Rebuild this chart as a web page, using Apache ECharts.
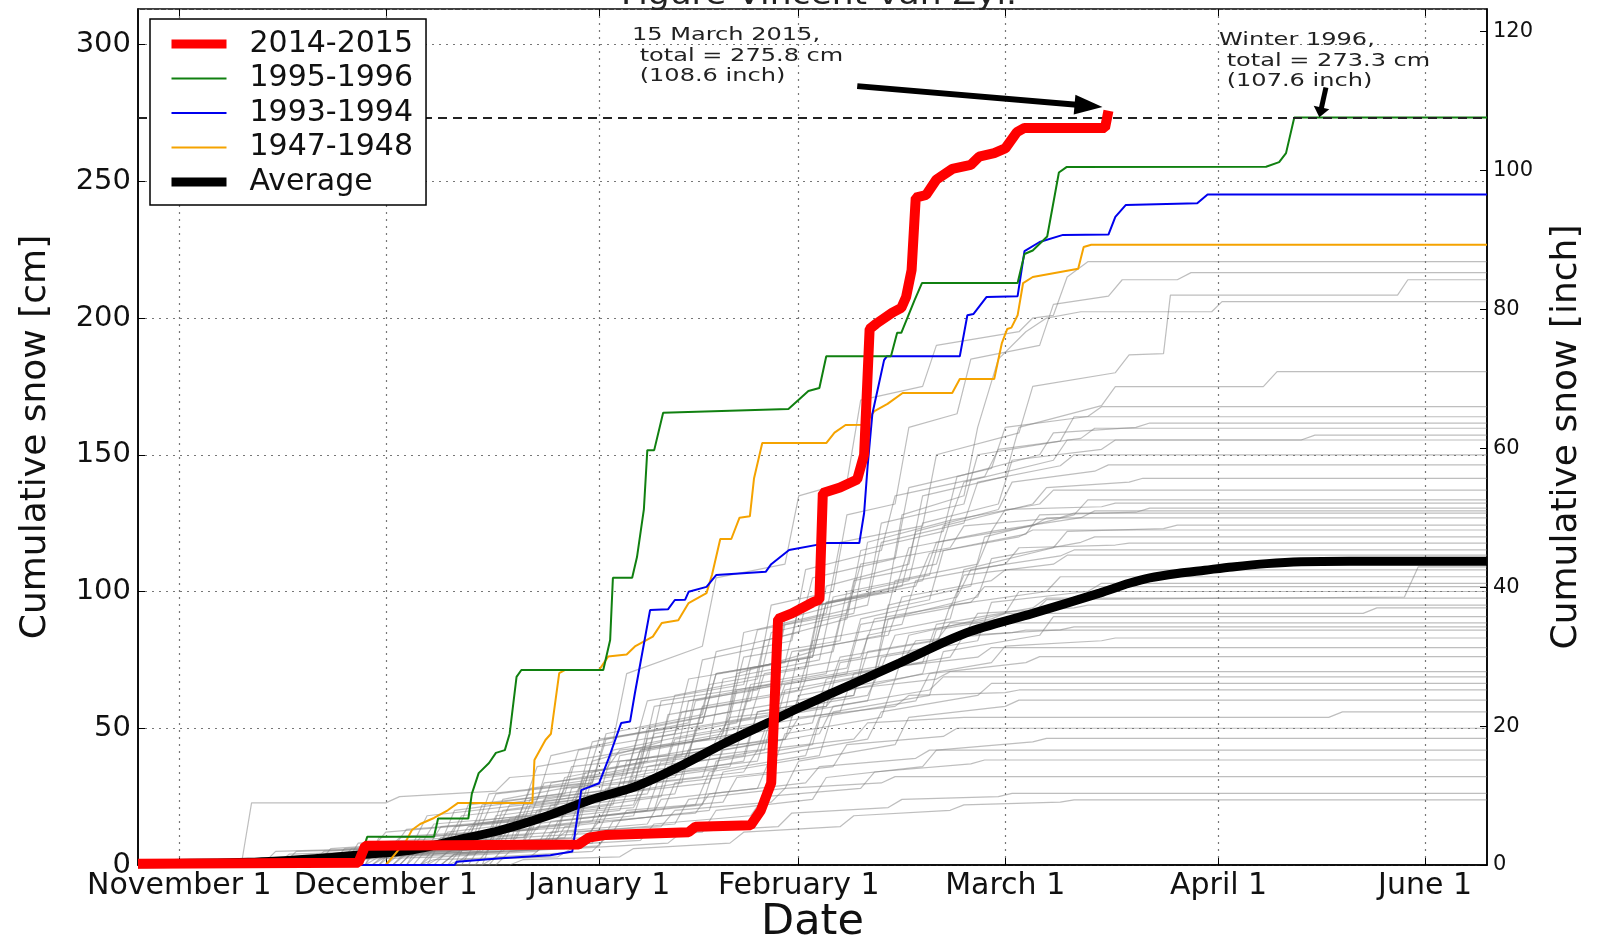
<!DOCTYPE html>
<html>
<head>
<meta charset="UTF-8">
<title>Cumulative snow</title>
<script src="https://cdn.jsdelivr.net/npm/echarts@6/dist/echarts.min.js"></script>
<style>html,body{margin:0;padding:0;background:#fff;} #main{width:1606px;height:936px;}</style>
</head>
<body>
<div id="main"></div>
<script type="text/javascript">
// x = days after November 1
var tickDays = [0, 30, 61, 90, 120, 151, 181];
var tickNames = ['November 1', 'December 1', 'January 1', 'February 1', 'March 1', 'April 1', 'June 1'];

var season2015 = [[-6,0.5],[26,0.8],[27,7],[58,7.5],[59.5,10],[62,11],[74,12],[75,14],[83,14.5],[84.5,20],[86,30],[87,90],[89,92],[92,96],[93,97],[93.5,136],[96,138],[98.5,141],[99.5,150],[100.3,196],[101.3,198],[103.6,202],[104.9,203.7],[105.6,207.7],[106.4,217.6],[107,244],[108.5,245],[110,250.6],[112.3,254.5],[115,256],[116.2,259],[118.4,260.3],[120,262],[121.7,268],[122.8,269.5],[134.5,269.5],[135,275.8]];
var season1996 = [[-6,0],[26,0],[27.3,10.3],[37,10.3],[37.6,17],[42,17],[42.5,26],[43.5,33.6],[45,37.3],[46,41],[47.3,42],[48,48],[49,68.8],[49.7,71.3],[61.6,71.3],[62.6,82.3],[63,105],[65.8,105],[66.5,112.6],[67.5,130],[68,151.7],[69,151.7],[70.3,165.4],[88.5,166.7],[90.2,170.6],[91.4,173.3],[93,174.4],[94,186],[103.4,186],[104.3,194.6],[104.9,194.6],[106.8,206.4],[107.9,212.8],[121.8,212.8],[122.8,223.4],[124,224.7],[126.1,229.8],[127.8,253.2],[128.9,255.2],[157.9,255.3],[159.8,257],[160.8,260.3],[162,273.3],[190,273.3]];
var season1994 = [[-6,0],[40,0],[40.3,1.2],[46.8,2.5],[53.9,3.6],[57.1,4.9],[58.4,27.4],[61,29.9],[62.3,38.4],[64.2,51.9],[65.5,52.5],[66.2,62.9],[68.4,93.2],[71,93.5],[72,96.9],[73.5,97],[74,99.9],[76.6,101.7],[78,106],[85.2,107.2],[86,110],[88.6,115.2],[94,117.7],[98.8,117.7],[99.5,128.7],[100,145.6],[100.7,165],[102.4,184.6],[102.8,186],[113.4,186],[114.5,201],[115.4,201.5],[117.3,207.7],[121.8,208],[122.8,224.5],[125,227.8],[128.4,230.4],[135,230.5],[136,237],[137.5,241.3],[147.9,242],[149.4,245.2],[190,245.2]];
var season1948 = [[-6,0],[30,0],[31,3],[33,9],[33.8,12.8],[35,15],[37,17.2],[39,20],[40.5,22.7],[51.3,22.7],[51.6,38.4],[53.2,45.7],[54,48],[55.2,70.2],[56,71.3],[61,71.3],[62.3,76.2],[65,77],[66.2,79.9],[68.8,83.5],[70.1,88.5],[72.5,89.5],[74,95.8],[76.6,99.4],[77.4,106.1],[78.6,119.2],[80.2,119.2],[81.4,127],[82.9,127.5],[83.5,141.3],[84.7,154.3],[94,154.3],[95.2,158.1],[96.8,160.9],[99.6,161],[101,166],[102.9,168.6],[105.1,172.6],[112.3,172.6],[113.4,177.7],[118.4,177.7],[119.5,190.7],[120.3,196],[120.9,196.5],[121.8,201],[122.6,212.8],[124,215],[130.6,218],[131.4,226],[132.5,226.8],[190,226.8]];
var average = [[-6,0.5],[10,1],[20.8,2.5],[26,3.7],[33.8,5.5],[40.3,9.1],[46.8,12.8],[53.2,17.7],[59.7,23.8],[66.2,28.6],[72.6,35.9],[79.2,44.5],[85.5,52],[90,57.4],[94.9,62.9],[104.6,73.8],[114.3,84.8],[124,92],[133.7,99.4],[138,103],[141,105],[145,106.6],[149,107.8],[153,109],[158,110.2],[163,110.9],[170,111.1],[190,111.1]];

// all other winters (grey)
var otherWinters = [
  [[-6,0],[22,0],[24,6],[38,8],[40,20],[52,24],[54,40],[63,45],[65,70],[76,80],[78,105],[88,110],[90,135],[97,140],[99,170],[108,175],[110,190],[122,195],[124,200],[127,201],[129,215],[132,220.6],[190,220.6]],
  [[-6,0],[28,0],[30,4],[44,6],[46,18],[58,22],[60,38],[70,45],[72,62],[84,68],[86,95],[95,100],[97,128],[104,132],[106,160],[113,165],[115,185],[125,190],[127,205],[135,208],[137,214],[145,214],[147,216.6],[190,216.6]],
  [[-6,0],[32,0],[34,5],[48,8],[50,22],[66,28],[68,50],[80,56],[82,85],[94,92],[96,118],[108,124],[110,150],[122,158],[124,175],[136,180],[138,186.5],[143,187],[144,208.4],[177,208.4],[178.5,214],[190,214]],
  [[-6,0],[25,0],[27,3],[41,5],[43,15],[57,20],[59,34],[73,40],[75,60],[91,68],[93,95],[103,100],[105,128],[114,135],[116,160],[119,185],[123,195],[126,200],[131,202.3],[150,202.3],[151.5,206],[190,206]],
  [[-6,0],[35,0],[37,6],[50,9],[52,20],[64,25],[66,42],[79,48],[81,70],[92,78],[94,102],[106,110],[108,135],[120,142],[122,160],[134,168],[136,174.9],[157.5,174.9],[159.5,180.4],[190,180.4]],
  [[-6,0],[30,0],[32,8],[45,10],[47,24],[60,30],[62,48],[76,55],[78,78],[90,85],[92,105],[104,112],[106,138],[118,145],[120,160],[132,164],[134,167.6],[190,167.6]],
  [[-6,0],[18,0],[20,4],[36,6],[38,14],[54,18],[56,32],[68,38],[70,60],[86,66],[88,90],[100,98],[102,125],[114,132],[116,150],[128,155],[130,163.9],[190,163.9]],
  [[-6,0],[40,0],[42,10],[55,12],[57,28],[69,34],[71,55],[83,60],[85,82],[97,90],[99,115],[111,122],[113,142],[125,150],[127,158],[139,160],[141,161.6],[190,161.6]],
  [[-6,0],[27,0],[29,7],[42,9],[44,22],[58,27],[60,45],[74,52],[76,75],[89,82],[91,108],[102,115],[104,135],[117,142],[119,152],[131,156],[133,159.7],[190,159.7]],
  [[-6,0],[33,0],[35,5],[47,7],[49,18],[62,24],[64,40],[77,46],[79,68],[93,75],[95,98],[106,104],[108,125],[119,132],[121,148],[134,152],[136,155.4],[163,155.4],[165,157.2],[190,157.2]],
  [[-6,0],[21,0],[23,3],[37,5],[39,12],[52,16],[54,30],[67,36],[69,58],[84,64],[86,85],[98,92],[100,118],[112,126],[114,140],[127,148],[129,155.4],[190,155.4]],
  [[-6,0],[44,0],[46,12],[58,14],[60,32],[72,38],[74,60],[86,66],[88,88],[100,95],[102,118],[114,125],[116,140],[128,146],[130,150],[190,150]],
  [[-6,0],[29,0],[31,6],[45,8],[47,20],[61,25],[63,42],[75,48],[77,66],[91,72],[93,95],[105,102],[107,122],[119,130],[121,140],[133,144],[135,146.3],[190,146.3]],
  [[-6,0],[36,0],[38,9],[51,11],[53,24],[66,29],[68,46],[81,52],[83,72],[95,78],[97,100],[109,106],[111,124],[124,132],[126,138],[138,140],[140,141.4],[190,141.4]],
  [[-6,0],[15,0],[17,5],[31,6],[33,13],[49,16],[51,28],[65,33],[67,50],[80,56],[82,76],[96,82],[98,104],[110,110],[112,126],[125,132],[127,137.1],[190,137.1]],
  [[-6,0],[38,0],[40,4],[53,6],[55,16],[69,20],[71,36],[85,42],[87,62],[101,70],[103,95],[115,102],[117,120],[130,128],[132,133.5],[190,133.5]],
  [[-6,0],[24,0],[26,8],[40,10],[42,22],[56,26],[58,42],[72,48],[74,68],[88,74],[90,94],[104,100],[106,116],[118,122],[120,130],[134,131],[136,132.3],[190,132.3]],
  [[-6,0],[31,0],[33,5],[46,7],[48,17],[63,22],[65,38],[79,44],[81,64],[94,70],[96,90],[109,97],[111,115],[123,121],[125,128],[139,129],[141,130.5],[190,130.5]],
  [[-6,0],[42,0],[44,8],[57,10],[59,24],[73,30],[75,50],[88,56],[90,78],[102,84],[104,104],[116,110],[118,122],[131,127],[133,129.5],[190,129.5]],
  [[-6,0],[20,0],[22,6],[34,8],[36,18],[50,22],[52,36],[66,42],[68,60],[82,66],[84,86],[97,92],[99,110],[112,116],[114,124],[128,127],[130,128.7],[190,128.7]],
  [[-6,0],[27,0],[29,10],[43,12],[45,26],[59,30],[61,46],[76,52],[78,70],[92,76],[94,96],[108,104],[110,118],[124,124],[126,126.9],[190,126.9]],
  [[-6,0],[35,0],[37,4],[50,6],[52,14],[66,18],[68,32],[82,38],[84,56],[98,62],[100,84],[112,90],[114,108],[127,116],[129,122],[143,123],[145,124.3],[190,124.3]],
  [[-6,0],[12,0],[14,5],[28,6],[30,12],[44,15],[46,26],[60,30],[62,46],[76,52],[78,70],[92,76],[94,96],[107,102],[109,114],[122,120],[124,122.5],[190,122.5]],
  [[-6,0],[39,0],[41,6],[54,8],[56,20],[70,25],[72,40],[86,46],[88,64],[101,70],[103,90],[116,98],[118,112],[131,118],[133,120],[190,120]],
  [[-6,0],[26,0],[28,4],[42,6],[44,15],[58,19],[60,34],[74,40],[76,58],[90,64],[92,82],[105,88],[107,104],[120,110],[122,116],[136,117],[138,117.7],[190,117.7]],
  [[-6,0],[33,0],[35,8],[49,10],[51,22],[65,26],[67,42],[81,48],[83,66],[97,72],[99,90],[113,98],[115,108],[128,113],[130,115.2],[190,115.2]],
  [[-6,0],[17,0],[19,3],[33,4],[35,10],[49,13],[51,24],[65,28],[67,42],[81,48],[83,64],[97,70],[99,88],[112,94],[114,106],[127,110],[129,113.3],[190,113.3]],
  [[-6,0],[45,0],[47,6],[60,8],[62,18],[76,22],[78,38],[92,44],[94,62],[108,70],[110,86],[124,92],[126,97],[178,98],[180,109],[190,109]],
  [[-6,0],[23,0],[25,6],[39,8],[41,18],[55,22],[57,36],[71,40],[73,56],[87,62],[89,78],[103,84],[105,98],[118,104],[120,107.9],[190,107.9]],
  [[-6,0],[30,0],[32,4],[46,6],[48,14],[62,18],[64,30],[78,35],[80,52],[94,58],[96,74],[110,80],[112,95],[126,100],[128,105.4],[190,105.4]],
  [[-6,0],[37,0],[39,5],[52,7],[54,16],[68,20],[70,34],[84,38],[86,54],[100,60],[102,76],[116,82],[118,96],[132,100],[134,103],[190,103]],
  [[-6,0],[19,0],[21,5],[35,7],[37,15],[51,18],[53,30],[67,34],[69,48],[83,54],[85,70],[99,76],[101,90],[115,96],[117,101.8],[190,101.8]],
  [[-6,0],[41,0],[43,8],[56,10],[58,22],[72,26],[74,40],[88,46],[90,62],[104,68],[106,84],[120,92],[122,100],[190,100]],
  [[-6,0],[28,0],[30,3],[44,5],[46,12],[60,16],[62,28],[76,32],[78,46],[92,52],[94,68],[108,74],[110,88],[124,94],[126,97.6],[190,97.6]],
  [[-6,0],[34,0],[36,6],[50,8],[52,18],[66,22],[68,36],[82,40],[84,56],[98,62],[100,78],[114,84],[116,92],[130,94],[132,95],[190,95]],
  [[-6,0],[22,0],[24,4],[38,6],[40,14],[54,18],[56,28],[70,32],[72,46],[86,52],[88,66],[102,72],[104,84],[118,90],[120,92],[172,92],[174,94],[190,94]],
  [[-6,0],[46,0],[48,5],[61,7],[63,16],[77,20],[79,34],[93,40],[95,56],[109,62],[111,78],[125,84],[127,90.8],[190,90.8]],
  [[-6,0],[14,0],[16,4],[30,5],[32,10],[46,12],[48,22],[62,26],[64,38],[78,42],[80,56],[94,62],[96,76],[110,82],[112,88.5],[190,88.5]],
  [[-6,0],[32,0],[34,5],[48,7],[50,16],[64,20],[66,32],[80,36],[82,50],[96,56],[98,70],[112,76],[114,84],[128,86],[130,87.1],[190,87.1]],
  [[-6,0],[25,0],[27,6],[41,8],[43,16],[57,20],[59,32],[73,36],[75,48],[89,54],[91,68],[105,74],[107,82],[121,85],[123,85.9],[190,85.9]],
  [[-6,0],[38,0],[40,4],[54,6],[56,14],[70,18],[72,30],[86,34],[88,48],[102,54],[104,68],[118,74],[120,80],[134,82],[136,83],[190,83]],
  [[-6,0],[20,0],[22,3],[36,4],[38,10],[52,13],[54,22],[68,26],[70,38],[84,42],[86,56],[100,62],[102,72],[116,76],[118,79.5],[190,79.5]],
  [[-6,0],[43,0],[45,6],[59,8],[61,18],[75,22],[77,34],[91,40],[93,54],[107,60],[109,70],[123,74],[125,76.2],[190,76.2]],
  [[-6,0],[9,0],[10.5,22.7],[30,22.7],[32,25],[46,27],[48,32],[62,35],[64,42],[78,46],[80,54],[94,58],[96,64],[110,68],[112,70.7],[190,70.7]],
  [[-6,0],[29,0],[31,4],[45,6],[47,12],[61,16],[63,26],[77,30],[79,42],[93,48],[95,58],[109,64],[111,68.8],[190,68.8]],
  [[-6,0],[36,0],[38,3],[52,5],[54,12],[68,15],[70,24],[84,28],[86,40],[100,46],[102,56],[116,62],[118,66.4],[190,66.4]],
  [[-6,0],[24,0],[26,5],[40,7],[42,14],[56,18],[58,28],[72,32],[74,42],[88,46],[90,54],[104,58],[106,62],[120,63],[122,64],[190,64]],
  [[-6,0],[40,0],[42,4],[56,6],[58,12],[72,15],[74,24],[88,28],[90,38],[104,44],[106,54],[120,58],[122,60.3],[190,60.3]],
  [[-6,0],[18,0],[20,3],[34,4],[36,8],[50,10],[52,18],[66,21],[68,30],[82,34],[84,42],[98,46],[100,52],[114,54],[167,54],[169,56],[190,56]],
  [[-6,0],[31,0],[33,4],[47,5],[49,10],[63,12],[65,20],[79,23],[81,32],[95,36],[97,44],[111,47],[113,50],[190,50]],
  [[-6,0],[44,0],[46,3],[60,5],[62,10],[76,12],[78,20],[92,24],[94,32],[108,36],[110,42],[124,45],[126,46.3],[190,46.3]],
  [[-6,0],[27,0],[29,3],[43,4],[45,8],[59,10],[61,16],[75,19],[77,26],[91,30],[93,36],[107,39],[109,42],[190,42]],
  [[-6,0],[35,0],[37,2],[51,3],[53,7],[67,9],[69,15],[83,18],[85,25],[99,28],[101,34],[115,37],[117,38.4],[190,38.4]],
  [[-6,0],[22,0],[24,2],[38,3],[40,6],[54,8],[56,12],[70,14],[72,20],[86,23],[88,28],[102,30],[104,32.3],[190,32.3]],
  [[-6,0],[39,0],[41,2],[55,3],[57,6],[71,8],[73,12],[87,14],[89,19],[103,21],[105,24],[119,25],[121,26.2],[190,26.2]],
  [[-6,0],[48,0],[50,2],[64,3],[66,6],[80,8],[82,12],[96,14],[98,18],[112,20],[114,22],[128,23],[130,23.8],[190,23.8]]
];

var FONT = 'DejaVu Sans';
var myChart = echarts.init(document.getElementById('main'));

var series = [];
otherWinters.forEach(function (w) {
    series.push({
        type: 'line', data: w, symbol: 'none', silent: true,
        lineStyle: { color: 'rgba(125,125,125,0.5)', width: 1.2 }
    });
});
series.push({ name: 'Average', type: 'line', data: average, symbol: 'none', smooth: 0.3, lineStyle: { color: '#000', width: 9 }, z: 3 });
series.push({ name: '1947-1948', type: 'line', data: season1948, symbol: 'none', lineStyle: { color: '#f5a300', width: 2 }, z: 4 });
series.push({ name: '1993-1994', type: 'line', data: season1994, symbol: 'none', lineStyle: { color: '#0000ee', width: 2 }, z: 4 });
series.push({ name: '1995-1996', type: 'line', data: season1996, symbol: 'none', lineStyle: { color: '#108010', width: 2 }, z: 4 });
series.push({
    name: '2014-2015', type: 'line', data: season2015, symbol: 'none',
    lineStyle: { color: '#ff0000', width: 10 }, z: 5,
    markLine: {
        silent: true, animation: false, label: { show: false },
        lineStyle: { color: '#000', type: 'solid' },
        data: [
            [{ coord: [98.5, 284.8], symbol: 'none', lineStyle: { width: 6, color: '#000', type: 'solid' } },
             { coord: [132.1, 277.6], symbol: 'triangle', symbolSize: [20, 28] }],
            [{ coord: [166.6, 284.3], symbol: 'none', lineStyle: { width: 5, color: '#000', type: 'solid' } },
             { coord: [165.8, 275.2], symbol: 'triangle', symbolSize: [16, 10] }],
            [{ coord: [-6, 273.3], symbol: 'none', lineStyle: { width: 2, color: '#222', type: [9, 6] } },
             { coord: [190, 273.3], symbol: 'none' }]
        ]
    }
});

var legendItems = [
    { name: '2014-2015', lineStyle: { width: 9 } },
    { name: '1995-1996', lineStyle: { width: 2 } },
    { name: '1993-1994', lineStyle: { width: 2 } },
    { name: '1947-1948', lineStyle: { width: 2 } },
    { name: 'Average', lineStyle: { width: 9 } }
];

var option = {
    animation: false,
    backgroundColor: '#fff',
    grid: { left: 138, right: 119, top: 9, bottom: 71, outerBoundsMode: 'none', containLabel: false,
            show: true, borderColor: '#000', borderWidth: 1.5, backgroundColor: 'transparent' },
    legend: {
        data: legendItems,
        orient: 'vertical', left: 150, top: 19,
        padding: [10, 13, 8, 17],
        itemWidth: 55, itemHeight: 14, itemGap: 4.5,
        itemStyle: { opacity: 0 },
        textStyle: { fontSize: 30, fontFamily: FONT, color: '#111', lineHeight: 30, padding: [0, 0, 0, 18] },
        borderColor: '#000', borderWidth: 1.5, backgroundColor: '#fff', borderRadius: 0,
        selectedMode: false, z: 10
    },
    xAxis: [{
        type: 'value', min: -6, max: 190,
        name: 'Date', nameLocation: 'middle', nameGap: 36, nameMoveOverlap: false,
        nameTextStyle: { fontSize: 43, fontFamily: FONT, color: '#111' },
        axisLine: { show: true, onZero: false, lineStyle: { color: '#000', width: 1.5 } },
        axisTick: { show: true, inside: true, length: 7, customValues: tickDays, lineStyle: { color: '#000' } },
        axisLabel: {
            customValues: tickDays, fontSize: 30, fontFamily: FONT, color: '#111', margin: 6,
            formatter: function (v) { var i = tickDays.indexOf(v); return i >= 0 ? tickNames[i] : ''; }
        },
        splitLine: { show: true, lineStyle: { color: '#777', type: [2, 5], width: 1.2 } }
    }, {
        type: 'value', min: -6, max: 190, position: 'top',
        axisLine: { show: false, onZero: false },
        axisTick: { show: true, inside: true, length: 7, customValues: tickDays, lineStyle: { color: '#000' } },
        axisLabel: { show: false, customValues: tickDays },
        splitLine: { show: false }
    }],
    yAxis: [{
        type: 'value', min: 0, max: 313, interval: 50,
        name: 'Cumulative snow [cm]', nameLocation: 'middle', nameGap: 84, nameRotate: 90, nameMoveOverlap: false,
        nameTextStyle: { fontSize: 36, fontFamily: FONT, color: '#111' },
        axisLine: { show: true, onZero: false, lineStyle: { color: '#000', width: 1.5 } },
        axisTick: { show: true, inside: true, length: 7, lineStyle: { color: '#000' } },
        axisLabel: { fontSize: 29, fontFamily: FONT, color: '#111', margin: 7, showMaxLabel: false,
            formatter: function (v) { return v % 50 === 0 ? v : ''; } },
        splitLine: { show: true, lineStyle: { color: '#777', type: [2, 5], width: 1.2 } }
    }, {
        type: 'value', min: 0, max: 313 / 2.54, interval: 20, position: 'right',
        name: 'Cumulative snow [inch]', nameLocation: 'middle', nameGap: 62, nameRotate: 90, nameMoveOverlap: false,
        nameTextStyle: { fontSize: 36, fontFamily: FONT, color: '#111' },
        axisLine: { show: true, onZero: false, lineStyle: { color: '#000', width: 1.5 } },
        axisTick: { show: true, inside: true, length: 7, lineStyle: { color: '#000' } },
        axisLabel: { fontSize: 21, fontFamily: FONT, color: '#111', margin: 6, showMaxLabel: false,
            formatter: function (v) { return v % 20 === 0 ? v : ''; } },
        splitLine: { show: false }
    }],
    graphic: [
        { type: 'text', x: 819, y: 11, scaleX: 1.15, z: 20,
          style: { text: 'Figure Vincent van Zyl.', x: 0, y: 0, fontSize: 30, fontFamily: FONT, fill: '#222', align: 'center', verticalAlign: 'bottom' } },
        { type: 'text', x: 632, y: 25, scaleX: 1.3, z: 20,
          style: { text: '15 March 2015,\n total = 275.8 cm\n (108.6 inch)', x: 0, y: 0, fontSize: 18.5, lineHeight: 20.5, fontFamily: FONT, fill: '#222', align: 'left', verticalAlign: 'top' } },
        { type: 'text', x: 1219, y: 30, scaleX: 1.3, z: 20,
          style: { text: 'Winter 1996,\n total = 273.3 cm\n (107.6 inch)', x: 0, y: 0, fontSize: 18.5, lineHeight: 20.5, fontFamily: FONT, fill: '#222', align: 'left', verticalAlign: 'top' } }
    ],
    series: series
};

myChart.setOption(option);
</script>
</body>
</html>
